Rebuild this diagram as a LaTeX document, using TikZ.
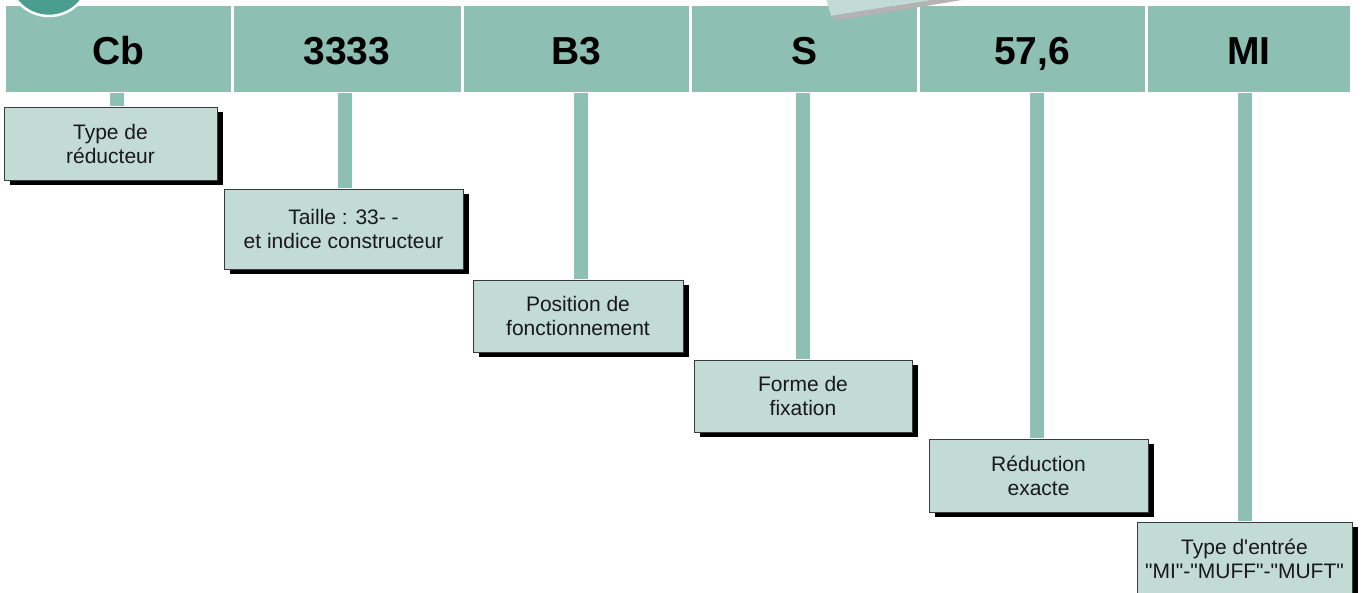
\documentclass[tikz,border=0pt]{standalone}
\usepackage{fontspec}
\setmainfont{Liberation Sans}[Ligatures=TeXOff]
\usetikzlibrary{shadows}
\definecolor{barc}{HTML}{8DC0B3}
\definecolor{boxc}{HTML}{C2DBD4}
\definecolor{circc}{HTML}{4A9E8F}
\definecolor{shadec}{HTML}{B3B3B3}
\definecolor{edgec}{HTML}{3A3A3A}
\begin{document}
\begin{tikzpicture}[x=1pt,y=-1pt,
  cell/.style={fill=barc, inner sep=0pt, minimum height=86.5pt,
    text height=36pt, text depth=4.5pt,
    font=\fontsize{39}{39}\selectfont\bfseries, text=black},
  infobox/.style={fill=boxc, draw=edgec, line width=0.9pt, inner sep=0pt,
    minimum height=73pt, align=center, font=\fontsize{21}{24}\selectfont,
    text=black!90,
    drop shadow={shadow xshift=6pt, shadow yshift=-5pt, fill=black, opacity=1}},
  stem/.style={draw=barc, line width=14.5pt, shorten >=0.6pt}]
\useasboundingbox (0,0) rectangle (1362,593);
\clip (0,0) rectangle (1362,593);
\fill[white] (0,0) rectangle (1362,593);

% header cells
\node[cell, minimum width=224.5pt] (c1) at (118.25,49.25) {Cb};
\node[cell, minimum width=227pt]   (c2) at (347,49.25) {3333};
\node[cell, minimum width=225pt]   (c3) at (576,49.25) {B3};
\node[cell, minimum width=225pt]   (c4) at (804,49.25) {S};
\node[cell, minimum width=225pt]   (c5) at (1032,49.25) {57,6};
\node[cell, minimum width=202.5pt] (c6) at (1248.75,49.25) {MI};

% decorative circle and tilted sheet
\node[circle, fill=circc, draw=white, line width=2.5pt, minimum size=82pt, inner sep=0pt] (logo) at (49,-25) {};
\fill[shadec] (831,15.7) -- (837,20.7) -- (962,0) -- (930,0) -- cycle;
\fill[boxc] (826,-2) -- (831,15.7) -- (930,0) -- (930,-2) -- cycle;

% boxes
\node[infobox, minimum width=213pt] (b1) at (110.5,143.5) {Type de\\réducteur};
\node[infobox, minimum width=239pt, minimum height=80pt] (b2) at (343.5,229) {Taille : 33- -\\et indice constructeur};
\node[infobox, minimum width=210pt, minimum height=72pt] (b3) at (578,316) {Position de\\fonctionnement};
\node[infobox, minimum width=218pt, minimum height=72pt] (b4) at (803,396) {Forme de\\fixation};
\node[infobox, minimum width=219pt] (b5) at (1038.5,475.5) {Réduction\\exacte};
\node[infobox, minimum width=215pt] (b6) at (1244.5,558.5) {Type d'entrée\\"MI"-"MUFF"-"MUFT"};

% stem positions
\coordinate (x1) at (117,0);
\coordinate (x2) at (345,0);
\coordinate (x3) at (581,0);
\coordinate (x4) at (803,0);
\coordinate (x5) at (1037,0);
\coordinate (x6) at (1245,0);

\draw[stem] (c1.south -| x1) -- (b1.north -| x1);
\draw[stem] (c2.south -| x2) -- (b2.north -| x2);
\draw[stem] (c3.south -| x3) -- (b3.north -| x3);
\draw[stem] (c4.south -| x4) -- (b4.north -| x4);
\draw[stem] (c5.south -| x5) -- (b5.north -| x5);
\draw[stem] (c6.south -| x6) -- (b6.north -| x6);
\end{tikzpicture}
\end{document}
